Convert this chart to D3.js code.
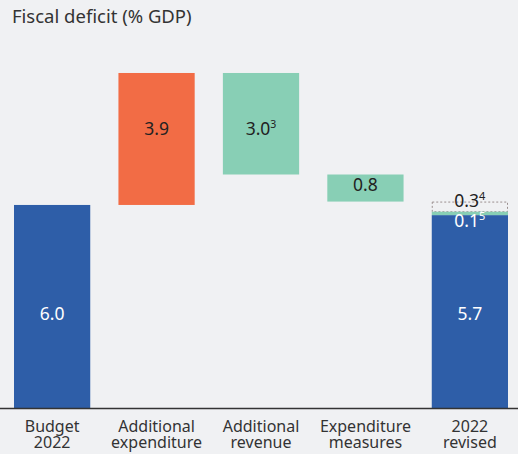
<!DOCTYPE html>
<html><head><meta charset="utf-8">
<script src="https://cdn.jsdelivr.net/npm/d3@7"></script>
<style>
html,body{margin:0;padding:0;background:#f0f1f3;}
svg{display:block;font-family:"Noto Sans","Open Sans",sans-serif;}
</style></head>
<body><svg id="chart" width="518" height="454"></svg>
<script>
const title = "Fiscal deficit (% GDP)";
const categories = ["Budget 2022","Additional expenditure","Additional revenue","Expenditure measures","2022 revised"];
const categoryLines = [["Budget","2022"],["Additional","expenditure"],["Additional","revenue"],["Expenditure","measures"],["2022","revised"]];
const stepValues = [6.0, 3.9, -3.0, -0.8];
const stepNotes = ["", "", "3", ""];
const stepKinds = ["total","increase","decrease","decrease"];
const revisedTotal = 5.7;
const revisedParts = [-0.3, -0.1];
const revisedPartNotes = ["4","5"];
const revisedPartKinds = ["unexplained","decrease"];
const colors = {total:"#2e5ea8", increase:"#f26c45", decrease:"#88cfb5"};

const svg = d3.select("#chart");
const W = 518, H = 454;
const x = d3.scaleBand().domain(categories).range([14, 508]).paddingInner(0.27).paddingOuter(0);
const y = d3.scaleLinear().domain([0, 10]).range([408, 69.6]);

svg.append("text").attr("x", 12).attr("y", 23).attr("font-size", 18.5).attr("fill", "#333").text(title);

// per-column label shift (px) relative to bar centre, styling only
const labelShift = [13.5, -4, 11.5, 3, 8];

const bars = [];
let running = 0;
stepValues.forEach((v, i) => {
  const start = stepKinds[i] === "total" ? 0 : running;
  const end = stepKinds[i] === "total" ? v : running + v;
  bars.push({i, cat: categories[i], y0: Math.min(start, end), y1: Math.max(start, end), kind: stepKinds[i], label: Math.abs(v).toFixed(1), note: stepNotes[i]});
  running = end;
});
let r = running;
const partBars = revisedParts.map((v, i) => {
  const b = {cat: categories[4], y0: Math.min(r, r + v), y1: Math.max(r, r + v), kind: revisedPartKinds[i], label: Math.abs(v).toFixed(1), note: revisedPartNotes[i]};
  r += v;
  return b;
});
bars.push({i: 4, cat: categories[4], y0: 0, y1: revisedTotal, kind: "total", label: revisedTotal.toFixed(1), note: ""});

const g = svg.append("g");
bars.forEach(b => {
  g.append("rect").attr("x", x(b.cat)).attr("width", x.bandwidth())
    .attr("y", y(b.y1)).attr("height", y(b.y0) - y(b.y1)).attr("fill", colors[b.kind]);
  const t = g.append("text").attr("x", x(b.cat) + x.bandwidth()/2).attr("y", (y(b.y0) + y(b.y1))/2 + labelShift[b.i])
    .attr("text-anchor", "middle").attr("font-size", 17.5)
    .attr("fill", b.kind === "total" ? "#fff" : "#222").text(b.label);
  if (b.note) t.append("tspan").attr("font-size", 10.5).attr("dy", -7).text(b.note);
});
partBars.forEach(b => {
  if (b.kind === "unexplained") {
    g.append("rect").attr("x", x(b.cat) + 0.5).attr("width", x.bandwidth() - 1)
      .attr("y", y(b.y1) + 0.5).attr("height", y(b.y0) - y(b.y1) - 0.5)
      .attr("fill", "none").attr("stroke", "#9a8f8f").attr("stroke-dasharray", "2,2").attr("stroke-width", 1);
  } else {
    g.append("rect").attr("x", x(b.cat)).attr("width", x.bandwidth())
      .attr("y", y(b.y1)).attr("height", y(b.y0) - y(b.y1)).attr("fill", colors[b.kind]);
  }
});
const cx = x(categories[4]) + x.bandwidth()/2;
partBars.forEach((b, i) => {
  const ty = i === 0 ? y(b.y0) - 4.5 : y(b.y0) + 12;
  const t = g.append("text").attr("x", cx).attr("y", ty).attr("text-anchor", "middle").attr("font-size", 17.5)
    .attr("fill", i === 0 ? "#222" : "#fff").text(b.label);
  t.append("tspan").attr("font-size", 11).attr("dy", -7).text(b.note);
});

const axis = svg.append("g").attr("transform", `translate(0,${y(0)})`)
  .call(d3.axisBottom(x).tickSize(0).tickFormat(""));
axis.select(".domain").attr("d", `M0,0.5H${W}`).attr("stroke", "#333").attr("stroke-width", 1.3);
axis.selectAll(".tick").each(function(d, i) {
  const t = d3.select(this).append("text").attr("text-anchor", "middle").attr("fill", "#333")
    .attr("font-size", 16).attr("font-family", "Noto Sans, Open Sans, sans-serif");
  categoryLines[i].forEach((line, j) => t.append("tspan").attr("x", 0).attr("y", 24 + j * 16).text(line));
});
</script></body></html>
